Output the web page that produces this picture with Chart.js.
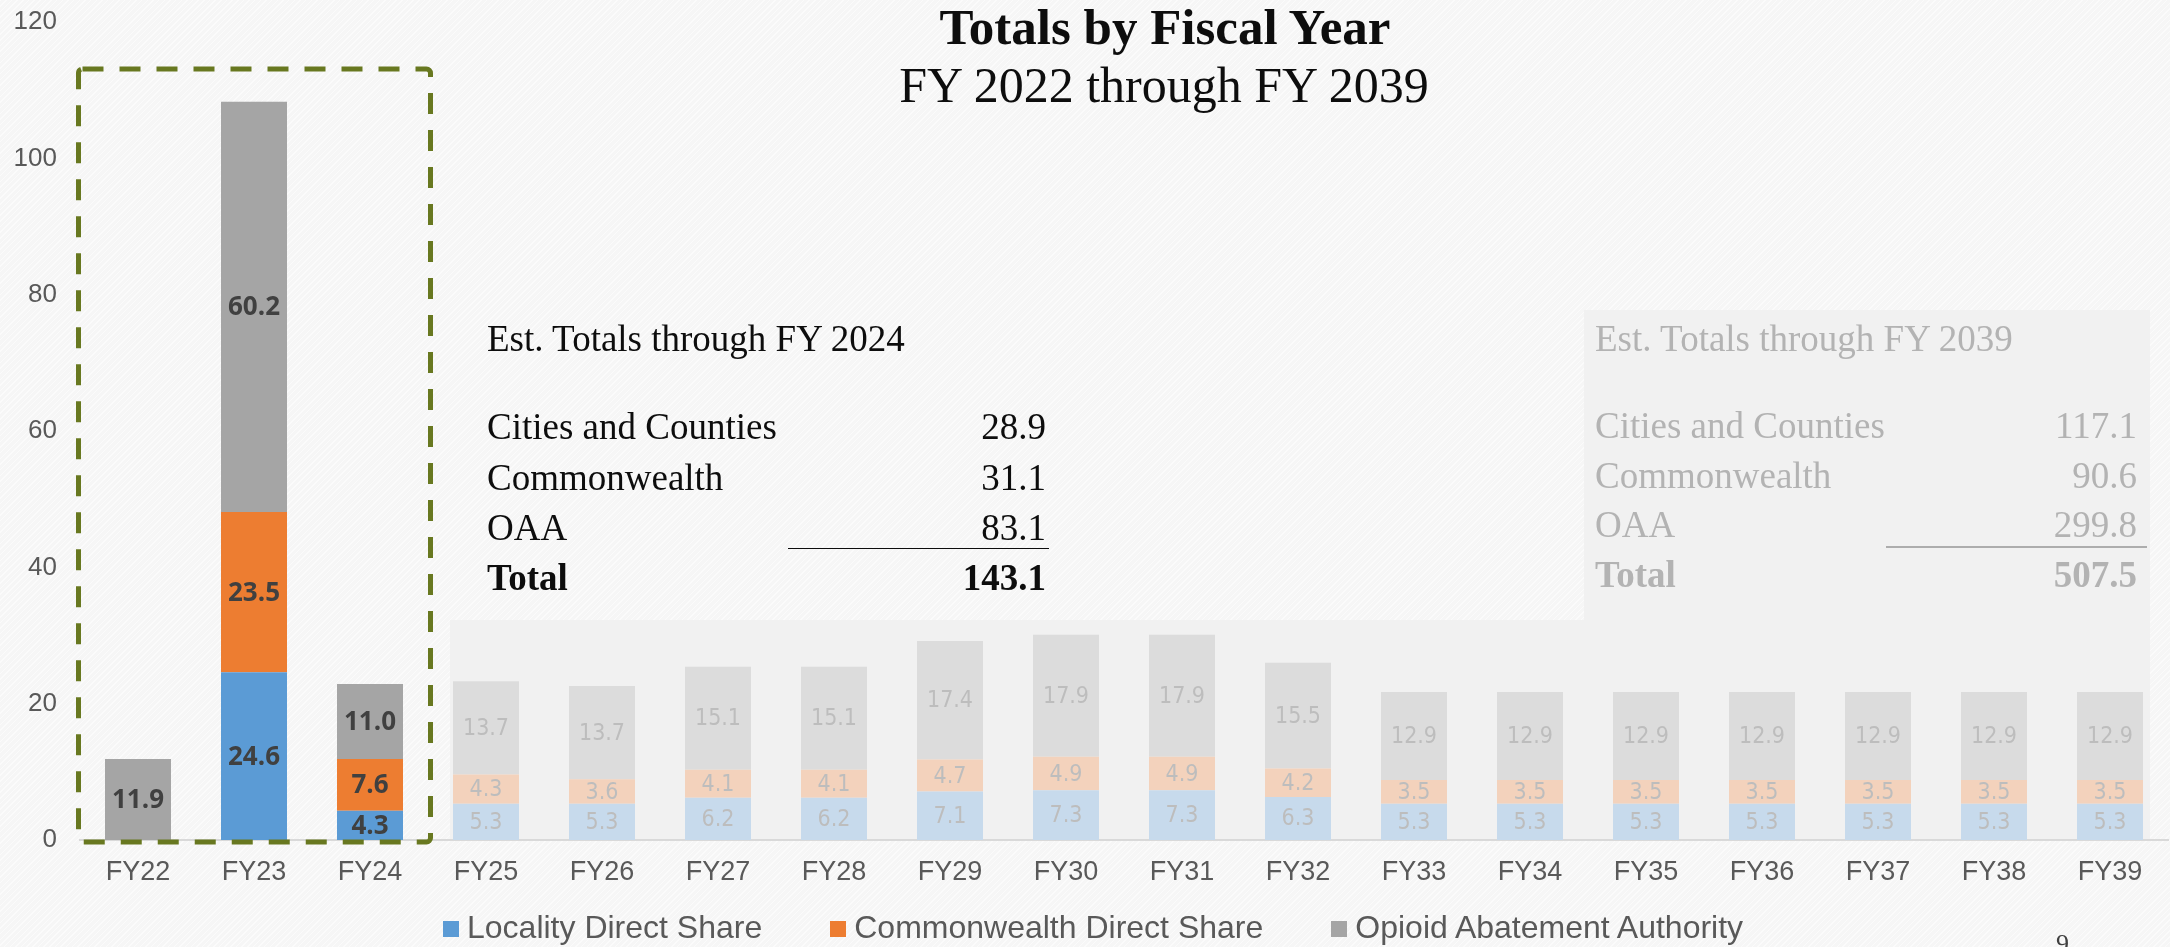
<!DOCTYPE html>
<html>
<head>
<meta charset="utf-8">
<script src="https://cdn.jsdelivr.net/npm/chart.js@4.4.1/dist/chart.umd.min.js"></script>
<style>
html, body { margin: 0; padding: 0; }
body {
  width: 2170px; height: 947px; overflow: hidden; position: relative;
  background-color: #f6f6f6;
  background-image: repeating-linear-gradient(135deg, rgba(255,255,255,0.6) 0px, rgba(255,255,255,0.6) 1px, rgba(255,255,255,0) 1px, rgba(255,255,255,0) 4px);
}
#chart { position: absolute; left: 0; top: 0; }
.t { position: absolute; white-space: nowrap; line-height: 1; }
.serif { font-family: "Liberation Serif", "DejaVu Serif", serif; }
.rule { position: absolute; height: 0; }
#legend { position: absolute; left: 443px; top: 911px; display: flex; align-items: center;
  font-family: "Liberation Sans", Arial, sans-serif; font-size: 32px; line-height: 32px; color: #595959; }
#legend .item { display: flex; align-items: center; margin-right: 68px; }
#legend .box { width: 16px; height: 16px; margin-right: 8px; position: relative; top: 2px; }
</style>
</head>
<body>
<canvas id="chart" width="2170" height="947"></canvas>
<div id="legend"></div>
<script>
// ---------- data ----------
const categories = ['FY22','FY23','FY24','FY25','FY26','FY27','FY28','FY29','FY30','FY31','FY32','FY33','FY34','FY35','FY36','FY37','FY38','FY39'];
const localityDirectShare      = [0, 24.6, 4.3, 5.3, 5.3, 6.2, 6.2, 7.1, 7.3, 7.3, 6.3, 5.3, 5.3, 5.3, 5.3, 5.3, 5.3, 5.3];
const commonwealthDirectShare  = [0, 23.5, 7.6, 4.3, 3.6, 4.1, 4.1, 4.7, 4.9, 4.9, 4.2, 3.5, 3.5, 3.5, 3.5, 3.5, 3.5, 3.5];
const opioidAbatementAuthority = [11.9, 60.2, 11.0, 13.7, 13.7, 15.1, 15.1, 17.4, 17.9, 17.9, 15.5, 12.9, 12.9, 12.9, 12.9, 12.9, 12.9, 12.9];
const seriesNames = ['Locality Direct Share', 'Commonwealth Direct Share', 'Opioid Abatement Authority'];
const yTicks = [0, 20, 40, 60, 80, 100, 120];
const summaryLabels = ['Cities and Counties', 'Commonwealth', 'OAA', 'Total'];
const totalsThroughFY2024 = [28.9, 31.1, 83.1, 143.1];
const totalsThroughFY2039 = [117.1, 90.6, 299.8, 507.5];
const highlightedCount = 3; // FY22-FY24 are emphasised

// ---------- styles ----------
const brightColors = ['#5B9BD5', '#ED7D31', '#A5A5A5'];
const fadedColors  = ['#C7DAEC', '#F3D2BC', '#DCDCDC'];
function barColors(s) {
  return categories.map((c, i) => i < highlightedCount ? brightColors[s] : fadedColors[s]);
}

// ---------- plugins ----------
const overlayPlugin = {
  id: 'overlay',
  beforeDraw(chart) {
    const ctx = chart.ctx, a = chart.chartArea;
    ctx.save();
    ctx.fillStyle = '#F1F1F1';
    ctx.fillRect(1584, 310, 566, 311);
    ctx.fillRect(450, 620, 1700, a.bottom - 620);
    ctx.restore();
  }
};

const labelPlugin = {
  id: 'barLabels',
  afterDatasetsDraw(chart) {
    const ctx = chart.ctx;
    ctx.save();
    ctx.textAlign = 'center';
    ctx.textBaseline = 'middle';
    chart.data.datasets.forEach((ds, di) => {
      const meta = chart.getDatasetMeta(di);
      meta.data.forEach((bar, i) => {
        const v = ds.data[i];
        if (!v) return;
        const p = bar.getProps(['x', 'y', 'base'], true);
        if (i < highlightedCount) {
          ctx.font = 'bold 26px "Open Sans", "Liberation Sans", sans-serif';
          ctx.fillStyle = '#404040';
        } else {
          ctx.font = '23px "Liberation Sans Narrow", "DejaVu Sans Condensed", sans-serif';
          ctx.fillStyle = '#BDBDBD';
        }
        ctx.fillText(v.toFixed(1), p.x, (p.y + p.base) / 2 + 1);
      });
    });
    ctx.restore();
  }
};

const dashedBoxPlugin = {
  id: 'dashedBox',
  afterDatasetsDraw(chart) {
    const ctx = chart.ctx;
    ctx.save();
    ctx.strokeStyle = '#687820';
    ctx.lineWidth = 5;
    ctx.setLineDash([21, 16]);
    ctx.beginPath();
    if (ctx.roundRect) ctx.roundRect(78.5, 69, 352, 773, 4); else ctx.rect(78.5, 69, 352, 773);
    ctx.stroke();
    ctx.restore();
  }
};

// ---------- chart ----------
new Chart(document.getElementById('chart'), {
  type: 'bar',
  data: {
    labels: categories,
    datasets: [
      { label: seriesNames[0], data: localityDirectShare, backgroundColor: barColors(0) },
      { label: seriesNames[1], data: commonwealthDirectShare, backgroundColor: barColors(1) },
      { label: seriesNames[2], data: opioidAbatementAuthority, backgroundColor: barColors(2) }
    ]
  },
  options: {
    responsive: false,
    animation: false,
    devicePixelRatio: 1,
    layout: { padding: { left: 0, top: 22, right: 2, bottom: 57 } },
    datasets: { bar: { barPercentage: 0.569, categoryPercentage: 1.0, borderWidth: 0 } },
    plugins: { legend: { display: false }, tooltip: { enabled: false } },
    scales: {
      x: {
        stacked: true,
        grid: { display: false, drawTicks: false },
        border: { color: '#D9D9D9', width: 2 },
        ticks: { color: '#595959', font: { family: 'Liberation Sans', size: 27 }, padding: 16, maxRotation: 0, autoSkip: false },
        afterFit(s) { s.height = 50; }
      },
      y: {
        stacked: true,
        min: 0, max: 120,
        grid: { display: false, drawTicks: false },
        border: { display: false },
        ticks: { color: '#595959', font: { family: 'Liberation Sans', size: 26 }, padding: 23 },
        afterBuildTicks(s) { s.ticks = yTicks.map(v => ({ value: v })); },
        afterFit(s) { s.width = 80; s.paddingTop = 0; s.paddingBottom = 0; }
      }
    }
  },
  plugins: [overlayPlugin, labelPlugin, dashedBoxPlugin]
});

// ---------- text ----------
const SERIF_BASE = 0.8375; // baseline offset for Liberation Serif with line-height 1
function addText(text, opts) {
  const d = document.createElement('div');
  d.className = 't serif';
  d.textContent = text;
  d.style.fontSize = opts.size + 'px';
  d.style.top = (opts.baseline - SERIF_BASE * opts.size) + 'px';
  d.style.color = opts.color || '#0D0D0D';
  if (opts.bold) d.style.fontWeight = 'bold';
  if (opts.center !== undefined) {
    d.style.left = (opts.center - 600) + 'px'; d.style.width = '1200px'; d.style.textAlign = 'center';
  } else if (opts.right !== undefined) {
    d.style.right = (2170 - opts.right) + 'px'; d.style.textAlign = 'right';
  } else {
    d.style.left = opts.left + 'px';
  }
  document.body.appendChild(d);
}
function addRule(left, right, y, width, color) {
  const r = document.createElement('div');
  r.className = 'rule';
  r.style.left = left + 'px'; r.style.width = (right - left) + 'px';
  r.style.top = (y - width / 2) + 'px';
  r.style.borderTop = width + 'px solid ' + color;
  document.body.appendChild(r);
}

addText('Totals by Fiscal Year', { center: 1165, baseline: 45, size: 51, bold: true });
addText('FY 2022 through FY 2039', { center: 1164, baseline: 102, size: 50 });

function addSummary(title, values, left, right, baselines, color, ruleY, ruleLeft, ruleRight, ruleColor, ruleW) {
  addText(title, { left: left, baseline: baselines[0], size: 37, color: color });
  summaryLabels.forEach((lab, i) => {
    const bold = i === summaryLabels.length - 1;
    addText(lab, { left: left, baseline: baselines[i + 1], size: 37, color: color, bold: bold });
    addText(values[i].toFixed(1), { right: right, baseline: baselines[i + 1], size: 37, color: color, bold: bold });
  });
  addRule(ruleLeft, ruleRight, ruleY, ruleW, ruleColor);
}
addSummary('Est. Totals through FY 2024', totalsThroughFY2024, 487, 1046, [351, 439, 490, 540, 590], '#0D0D0D', 549, 788, 1049, '#0D0D0D', 1.5);
addSummary('Est. Totals through FY 2039', totalsThroughFY2039, 1595, 2137, [351, 438, 488, 537, 587], '#B3B3B3', 547, 1886, 2147, '#ADADAD', 2);

addText('9', { left: 2056, baseline: 953, size: 26, color: '#404040' });

// legend
const legend = document.getElementById('legend');
seriesNames.forEach((name, s) => {
  const it = document.createElement('div'); it.className = 'item';
  const b = document.createElement('div'); b.className = 'box'; b.style.background = brightColors[s];
  const tx = document.createElement('span'); tx.textContent = name;
  it.appendChild(b); it.appendChild(tx); legend.appendChild(it);
});
</script>
</body>
</html>
